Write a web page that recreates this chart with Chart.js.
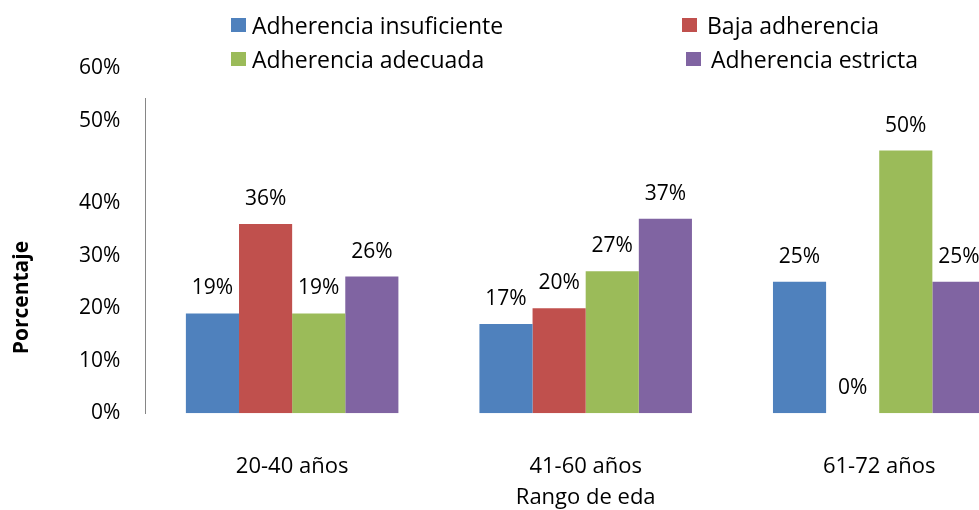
<!DOCTYPE html>
<html>
<head>
<meta charset="utf-8">
<script src="https://cdn.jsdelivr.net/npm/chart.js@4.4.1/dist/chart.umd.min.js"></script>
<style>
  body { margin: 0; width: 979px; height: 510px; overflow: hidden; background: #fff; position: relative; font-family: "Open Sans", sans-serif; }
  #wrap { position: absolute; left: 0; top: 0; width: 1026px; height: 510px; }
  #legend { position: absolute; left: 0; top: 0; width: 979px; height: 80px; }
  .item { position: absolute; display: flex; align-items: center; font-size: 23px; line-height: 26px; color: #000; white-space: nowrap; }
  .item span.box { display: inline-block; width: 15px; height: 14px; }
  .item:nth-child(1) { left: 231px; top: 12px; }
  .item:nth-child(2) { left: 682px; top: 12px; }
  .item:nth-child(3) { left: 231px; top: 46px; }
  .item:nth-child(4) { left: 686px; top: 46px; }
  .item:nth-child(1) span.box, .item:nth-child(3) span.box { margin-right: 6px; }
  .item:nth-child(2) span.box, .item:nth-child(4) span.box { margin-right: 10px; }
</style>
</head>
<body>
<div id="wrap"><canvas id="adherenceChart"></canvas></div>
<div id="legend"></div>
<script>
// rango de edad
const ageGroups = ['20-40 años', '41-60 años', '61-72 años'];

// porcentaje por grupo
const insuficiente = [19, 17, 25];
const baja = [36, 20, 0];
const adecuada = [19, 27, 50];
const estricta = [26, 37, 25];

const seriesNames = ['Adherencia insuficiente', 'Baja adherencia', 'Adherencia adecuada', 'Adherencia estricta'];
const seriesColors = ['#4F81BD', '#C0504D', '#9BBB59', '#8064A2'];

const yTicks = [0, 10, 20, 30, 40, 50, 60];
const shiftedTicks = [50, 60]; // these two labels sit higher in the original
const yTitle = 'Porcentaje';
const xTitle = 'Rango de eda';

Chart.defaults.font.family = '"Open Sans", sans-serif';
Chart.defaults.color = '#000';

const valueLabels = {
  id: 'valueLabels',
  afterDatasetsDraw(chart) {
    const ctx = chart.ctx;
    ctx.save();
    ctx.font = '21px "Open Sans"';
    ctx.fillStyle = '#000';
    ctx.textAlign = 'center';
    ctx.textBaseline = 'alphabetic';
    chart.data.datasets.forEach(function(ds, i) {
      chart.getDatasetMeta(i).data.forEach(function(bar, j) {
        ctx.fillText(ds.data[j] + '%', bar.x, bar.y - 19);
      });
    });
    ctx.restore();
  }
};

const extraText = {
  id: 'extraText',
  afterDraw(chart) {
    const ctx = chart.ctx;
    const y = chart.scales.y;
    ctx.save();
    ctx.fillStyle = '#000';
    ctx.font = '21px "Open Sans"';
    ctx.textAlign = 'right';
    ctx.textBaseline = 'middle';
    shiftedTicks.forEach(function(v) {
      ctx.fillText(v + '%', y.right - 25, y.getPixelForValue(v) - 30);
    });
    ctx.translate(22, (chart.chartArea.top + chart.chartArea.bottom) / 2 + 42);
    ctx.rotate(-Math.PI / 2);
    ctx.font = 'bold 21px "Open Sans"';
    ctx.textAlign = 'center';
    ctx.fillText(yTitle, 0, 0);
    ctx.restore();
  }
};

const data = {
  labels: ageGroups,
  datasets: [insuficiente, baja, adecuada, estricta].map(function(vals, i) {
    return {
      label: seriesNames[i],
      data: vals,
      backgroundColor: seriesColors[i],
      borderWidth: 0,
      barPercentage: 1,
      categoryPercentage: 0.724
    };
  })
};

const config = {
  type: 'bar',
  data: data,
  options: {
    responsive: true,
    maintainAspectRatio: false,
    animation: false,
    devicePixelRatio: 1,
    layout: { padding: { left: 54, top: 98, right: 0, bottom: 0 } },
    plugins: {
      legend: { display: false },
      tooltip: { enabled: false }
    },
    scales: {
      x: {
        grid: { display: false, drawTicks: false },
        border: { display: false },
        ticks: { padding: 40, font: { size: 22 }, color: '#000' },
        title: { display: true, text: xTitle, font: { size: 22 }, color: '#000', padding: { top: -35, bottom: -1 } }
      },
      y: {
        min: 0,
        max: 60,
        afterBuildTicks: function(scale) {
          scale.ticks = yTicks.map(function(v) { return { value: v }; });
        },
        grid: { display: false, drawTicks: false },
        border: { display: true, color: '#868686', width: 1 },
        ticks: {
          padding: 25,
          font: { size: 21 },
          color: '#000',
          callback: function(v) { return shiftedTicks.includes(v) ? '' : v + '%'; }
        }
      }
    }
  },
  plugins: [valueLabels, extraText]
};

var ctx = document.getElementById('adherenceChart');
var myChart = new Chart(ctx, config);

// legend in two rows, built from the chart's datasets
var legendEl = document.getElementById('legend');
myChart.data.datasets.forEach(function(ds) {
  var item = document.createElement('div');
  item.className = 'item';
  var box = document.createElement('span');
  box.className = 'box';
  box.style.background = ds.backgroundColor;
  item.appendChild(box);
  item.appendChild(document.createTextNode(ds.label));
  legendEl.appendChild(item);
});
</script>
</body>
</html>
